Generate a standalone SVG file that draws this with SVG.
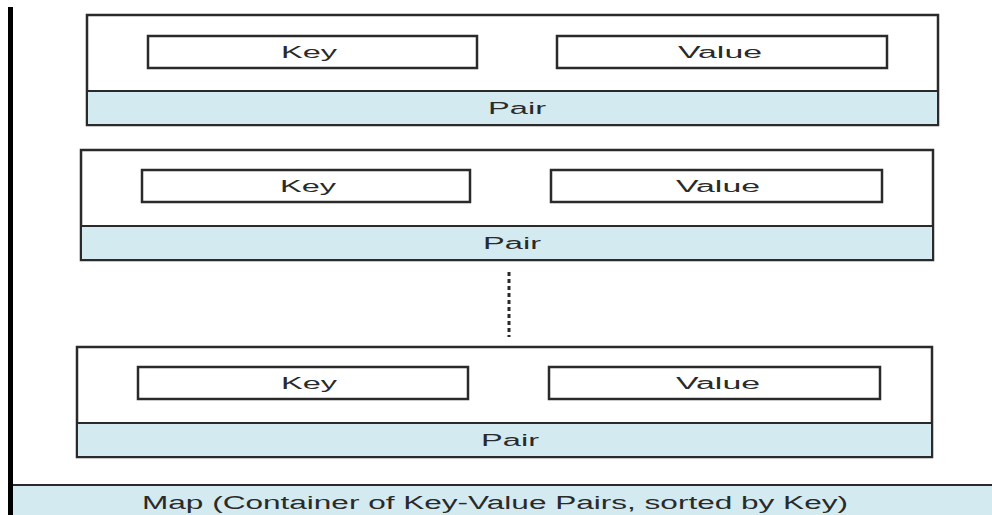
<svg xmlns="http://www.w3.org/2000/svg" width="992" height="515" viewBox="0 0 992 515">
<style>
.outer{fill:#fff;stroke:#2a2a2a;stroke-width:2.5}
.band{fill:#d3eaf1;stroke:#2a2a2a;stroke-width:2}
.box{fill:#fff;stroke:#2a2a2a;stroke-width:2.5}
.t{font-family:"Liberation Sans",Arial,sans-serif;font-size:16px;fill:#2a2a2a;text-anchor:middle}
.tm{font-family:"Liberation Sans",Arial,sans-serif;font-size:18px;fill:#2a2a2a;text-anchor:middle}
</style>
<rect width="992" height="515" fill="#fff"/>
<g id="map">
<rect x="13" y="485" width="980" height="31" fill="#d3eaf1"/>
<line x1="13" y1="485" x2="992" y2="485" stroke="#2a2a2a" stroke-width="2"/>
<line x1="10.5" y1="7" x2="10.5" y2="515" stroke="#000" stroke-width="5"/>
<text class="tm" x="495" y="509" textLength="706" lengthAdjust="spacingAndGlyphs">Map (Container of Key-Value Pairs, sorted by Key)</text>
</g>
<g id="pair1">
<rect class="outer" x="87" y="15" width="851" height="110"/>
<rect class="band" x="87" y="91" width="851" height="34"/>
<rect class="box" x="148" y="36" width="329" height="32"/>
<rect class="box" x="557" y="36" width="330" height="32"/>
<text class="t" x="309" y="58" textLength="56" lengthAdjust="spacingAndGlyphs">Key</text>
<text class="t" x="720" y="58" textLength="84" lengthAdjust="spacingAndGlyphs">Value</text>
<text class="t" x="517" y="114" textLength="58" lengthAdjust="spacingAndGlyphs">Pair</text>
</g>
<g id="pair2">
<rect class="outer" x="81" y="150" width="852" height="110"/>
<rect class="band" x="81" y="226" width="852" height="34"/>
<rect class="box" x="142" y="170" width="328" height="32"/>
<rect class="box" x="551" y="170" width="331" height="32"/>
<text class="t" x="308" y="192" textLength="56" lengthAdjust="spacingAndGlyphs">Key</text>
<text class="t" x="718" y="192" textLength="84" lengthAdjust="spacingAndGlyphs">Value</text>
<text class="t" x="512" y="249" textLength="58" lengthAdjust="spacingAndGlyphs">Pair</text>
</g>
<g id="connectors">
<line x1="509" y1="272" x2="509" y2="337" stroke="#2a2a2a" stroke-width="3" stroke-dasharray="4,3"/>
</g>
<g id="pair3">
<rect class="outer" x="77" y="347" width="855" height="110"/>
<rect class="band" x="77" y="423" width="855" height="34"/>
<rect class="box" x="138" y="367" width="330" height="32"/>
<rect class="box" x="549" y="367" width="331" height="32"/>
<text class="t" x="309" y="389" textLength="56" lengthAdjust="spacingAndGlyphs">Key</text>
<text class="t" x="718" y="389" textLength="84" lengthAdjust="spacingAndGlyphs">Value</text>
<text class="t" x="510" y="446" textLength="58" lengthAdjust="spacingAndGlyphs">Pair</text>
</g>
</svg>
